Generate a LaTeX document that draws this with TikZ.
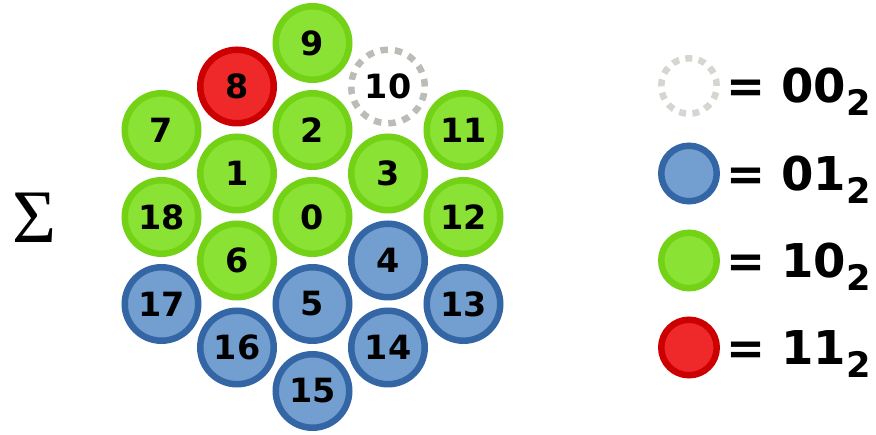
\documentclass[tikz,border=0pt]{standalone}
\usepackage{fontspec}
\setmainfont{DejaVu Sans}
\newfontfamily\sigmafont{Liberation Serif}
\usetikzlibrary{positioning}
\definecolor{greenfill}{HTML}{8AE234}
\definecolor{greenline}{HTML}{73D216}
\definecolor{bluefill}{HTML}{729FCF}
\definecolor{blueline}{HTML}{3465A4}
\definecolor{redfill}{HTML}{EF2929}
\definecolor{redline}{HTML}{CC0000}
\definecolor{emptyline}{HTML}{BABDB6}
\definecolor{emptykey}{HTML}{D3D7CF}
\newcommand{\bsub}[1]{\raisebox{-0.26cm}[0pt][0pt]{\fontsize{20}{20}\selectfont #1}}

\begin{document}
\begin{tikzpicture}[
    cell/.style={circle, line width=0.13cm, minimum size=1.47cm, inner sep=0pt, font=\fontsize{19}{19}\selectfont\bfseries},
    c00/.style={cell, draw=emptyline, dash pattern=on 0.15cm off 0.139cm},
    c01/.style={cell, draw=blueline, fill=bluefill},
    c10/.style={cell, draw=greenline, fill=greenfill},
    c11/.style={cell, draw=redline, fill=redfill},
    key/.style={circle, line width=0.13cm, minimum size=1.11cm, inner sep=0pt},
    keytext/.style={inner sep=0pt, font=\fontsize{26.5}{26.5}\selectfont\bfseries}
]
\useasboundingbox (-6.25,-4.36) rectangle (11.27,4.34);

\node[font=\sigmafont\fontsize{43}{43}\selectfont] (sum) at (-5.57,-0.02) {Σ};

% inner ring
\node[c10] (n0) at (0,0) {0};
\node[c10] (n1) at (-1.51,0.87) {1};
\node[c10] (n2) at (0,1.74) {2};
\node[c10] (n3) at (1.51,0.87) {3};
\node[c01] (n4) at (1.51,-0.87) {4};
\node[c01] (n5) at (0,-1.74) {5};
\node[c10] (n6) at (-1.51,-0.87) {6};

% outer ring
\node[c10] (n7) at (-3.02,1.74) {7};
\node[c11] (n8) at (-1.51,2.61) {8};
\node[c10] (n9) at (0,3.48) {9};
\node[c00] (n10) at (1.51,2.61) {10};
\node[c10] (n11) at (3.02,1.74) {11};
\node[c10] (n12) at (3.02,0) {12};
\node[c01] (n13) at (3.02,-1.74) {13};
\node[c01] (n14) at (1.51,-2.61) {14};
\node[c01] (n15) at (0,-3.48) {15};
\node[c01] (n16) at (-1.51,-2.61) {16};
\node[c01] (n17) at (-3.02,-1.74) {17};
\node[c10] (n18) at (-3.02,0) {18};

% legend
\node[key, draw=emptykey, dash pattern=on 0.14cm off 0.128cm] (k00) at (7.53,2.62) {};
\node[key, draw=blueline, fill=bluefill] (k01) at (7.53,0.87) {};
\node[key, draw=greenline, fill=greenfill] (k10) at (7.53,-0.87) {};
\node[key, draw=redline, fill=redfill] (k11) at (7.53,-2.61) {};
\node[keytext, right=0.12cm of k00] (t00) {= 00\bsub{2}};
\node[keytext, right=0.12cm of k01] (t01) {= 01\bsub{2}};
\node[keytext, right=0.12cm of k10] (t10) {= 10\bsub{2}};
\node[keytext, right=0.12cm of k11] (t11) {= 11\bsub{2}};
\end{tikzpicture}
\end{document}
